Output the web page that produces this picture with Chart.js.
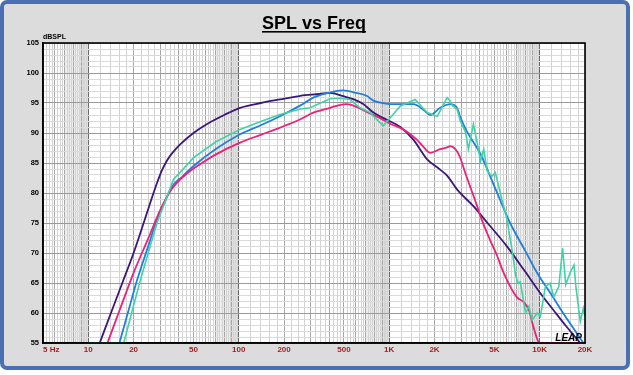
<!DOCTYPE html>
<html><head><meta charset="utf-8">
<script src="https://cdn.jsdelivr.net/npm/chart.js@4/dist/chart.umd.min.js"></script>
<style>html,body{margin:0;padding:0;background:#fff;overflow:hidden}canvas{display:block}</style>
</head><body>
<canvas id="c" width="633" height="375"></canvas>
<script>
// ---- data (Hz, dBSPL) ----
const purpleFreq = [11.9,14,17,20,25,28,30.9,33.5,36,40.8,50,61.6,80,102,140,188,257,346,404,500,582,675,785,964,1185,1446,1786,2180,2424,2820,3625,4500,6060,8000,10100,12500,15100,18600];
const purpleSPL  = [55,59.7,65.3,70,77.3,81.0,83.8,85.5,86.6,88.1,90,91.5,93,94.2,95,95.6,96.2,96.5,96.7,96.1,95.6,94.8,93.4,92.2,91.0,88.9,85.6,83.9,82.9,80.6,77.8,75.0,71.1,66.9,63.3,60.3,57.7,55];

const pinkFreq = [13.4,16,20,25,30.1,35,38.8,45,55.4,70,102,140,188,257,313,404,474,520,600,708,850,1020,1238,1525,1700,1875,2180,2424,2540,2750,2950,3215,3840,4040,4670,5220,5760,7060,7760,8470,9130,10000,20000];
const pinkSPL  = [55,60.2,66.7,72.4,77.2,80.3,81.7,83.2,84.8,86.4,88.4,89.7,90.9,92.3,93.4,94.2,94.7,94.8,94.4,93.5,92.6,91.5,90.6,88.9,87.6,86.7,87.3,87.6,87.8,87.3,86.0,83.2,77.8,76.1,72.2,69.5,66.7,62.6,61.9,60.5,57.5,55,55];

const blueFreq = [16.1,18.5,21.1,25,28.6,32,36,42,50.1,70,102,140,188,257,313,428,495,600,708,785,900,1020,1238,1446,1700,1875,2180,2540,2820,2970,3275,4040,5000,6358,8000,9600,12000,14300,17000,19500];
const blueSPL  = [55,60.4,65.5,71.1,75.6,78.3,81.1,82.7,84.5,87.3,89.8,91.3,92.8,94.6,95.9,96.9,97.1,96.7,96.2,95.4,95.0,94.8,94.8,94.8,93.8,93.0,94.2,94.8,94.2,92.6,90.3,86.5,81.1,75.0,70.4,66.7,63.0,60.0,57.2,55];

const tealFreq = [10,17.2,19.5,22.2,25,28.6,32,36.9,42,50.1,70,102,140,188,257,298,404,474,547,640,745,913,1020,1185,1486,1786,2085,2180,2424,2540,2620,2820,2970,3215,3360,3625,3840,4040,4245,4470,4820,5070,5610,6060,6540,6880,7130,7430,8050,8470,8910,9620,10100,10900,11700,12400,13400,14200,14900,15900,16900,17400,18600,19500,20000];
const tealSPL  = [55,55,60.2,65.5,70.0,75.0,78.2,82.3,83.8,85.9,88.5,90.6,91.9,93.1,94.0,94.2,95.7,95.8,95.6,94.2,93.4,91.2,92.6,94.5,95.6,93.4,92.8,93.7,95.9,95.3,94.6,94.0,92.0,90.1,87.3,91.5,88.4,85.3,87.3,83.7,82.8,83.4,78.9,75.6,70.6,66.7,65.0,65.2,60.0,61.1,58.8,60.0,59.4,64.4,65.0,62.7,64.4,70.8,64.7,66.7,68.0,64.4,58.6,60.8,59.4];

const xTickValues = [5,10,20,50,100,200,500,1000,2000,5000,10000,20000];
const xTickLabels = ['5 Hz','10','20','50','100','200','500','1K','2K','5K','10K','20K'];
const yTickValues = [55,60,65,70,75,80,85,90,95,100,105];
const yTickLabels = ['55','60','65','70','75','80','85','90','95','100','105'];
const titleText = 'SPL vs Freq';
const yUnitText = 'dBSPL';
const logoText = 'LEAP';

// ---- grid helpers ----
const X_MIN = 5, X_MAX = 20000, Y_MIN = 55, Y_MAX = 105;
function logGridValues() {
  const out = [];
  for (let e = 0; e <= 4; e++) {
    const base = Math.pow(10, e);
    const mults = [1, 1.2, 1.4, 1.6, 1.8];
    for (let m = 2; m < 10; m += 0.25) mults.push(m);
    for (const m of mults) {
      const v = Math.round(m * base * 1000) / 1000;
      if (v >= X_MIN && v <= X_MAX) out.push(v);
    }
  }
  out.sort((a, b) => a - b);
  const i = out.indexOf(X_MAX);
  if (i >= 0) { out.splice(i, 1); out.splice(1, 0, X_MAX); }
  return out;
}
const xGrid = logGridValues();
const yGrid = [];
for (let v = Y_MIN; v <= Y_MAX; v++) yGrid.push(v);

function pts(f, s) { return f.map((x, i) => ({ x: x, y: s[i] })); }

const framePlugin = {
  id: 'frame',
  beforeDraw(chart) {
    const c = chart.ctx, a = chart.chartArea, xs = chart.scales.x;
    c.save();
    c.fillStyle = '#ffffff';
    c.fillRect(0, 0, chart.width, chart.height);
    c.beginPath();
    c.roundRect(2, 2, 626, 366, 5);
    c.fillStyle = '#dcdcdc';
    c.fill();
    c.lineWidth = 4;
    c.strokeStyle = '#4a6fb2';
    c.stroke();
    c.fillStyle = '#ffffff';
    c.fillRect(a.left, a.top, a.right - a.left, a.bottom - a.top);
    // shaded bands near the end of each decade
    for (let e = 0; e <= 3; e++) {
      const b = Math.pow(10, e);
      const bands = [[7 * b, 8.8 * b, '#eeeeee'], [8.8 * b, 10 * b, '#e0e0e0']];
      for (const [lo, hi, col] of bands) {
        const l = Math.max(lo, X_MIN), h = Math.min(hi, X_MAX);
        if (h <= l) continue;
        const x0 = xs.getPixelForValue(l), x1 = xs.getPixelForValue(h);
        c.fillStyle = col;
        c.fillRect(x0, a.top, x1 - x0, a.bottom - a.top);
      }
    }
    c.restore();
  },
  afterDraw(chart) {
    const c = chart.ctx, a = chart.chartArea;
    c.save();
    c.strokeStyle = '#000';
    c.lineWidth = 1.6;
    c.strokeRect(a.left, a.top, a.right - a.left, a.bottom - a.top);
    c.font = 'bold 18px "Liberation Sans", Arial, sans-serif';
    c.fillStyle = '#000';
    c.textAlign = 'center';
    c.textBaseline = 'alphabetic';
    const tx = 314, ty = 29;
    c.fillText(titleText, tx, ty);
    const w = c.measureText(titleText).width;
    c.fillRect(tx - w / 2, ty + 2, w, 1.6);
    c.font = 'bold 7px "Liberation Sans", Arial, sans-serif';
    c.textAlign = 'left';
    c.fillText(yUnitText, a.left, a.top - 4);
    c.font = 'bold italic 10px "Liberation Sans", Arial, sans-serif';
    c.textAlign = 'right';
    c.fillText(logoText, a.right - 3, a.bottom - 2);
    c.restore();
  }
};

function xGridColor(ctx) {
  const v = ctx.tick ? ctx.tick.value : null;
  if (v == null) return '#d4d4d4';
  const e = Math.floor(Math.log10(v) + 1e-9);
  const m = v / Math.pow(10, e);
  if (Math.abs(m - 1) < 1e-6) return '#6a6a6a';
  if (Math.abs(m - Math.round(m)) < 1e-6) return '#a6a6a6';
  return '#d2d2d2';
}

new Chart(document.getElementById('c'), {
  type: 'line',
  data: {
    datasets: [
      { label: 'teal', data: pts(tealFreq, tealSPL), borderColor: '#3fd3a6', borderWidth: 1.6, pointRadius: 0, tension: 0, fill: false },
      { label: 'pink', data: pts(pinkFreq, pinkSPL), borderColor: '#ea2279', borderWidth: 1.8, pointRadius: 0, cubicInterpolationMode: 'monotone', fill: false },
      { label: 'blue', data: pts(blueFreq, blueSPL), borderColor: '#1f7fe0', borderWidth: 1.8, pointRadius: 0, cubicInterpolationMode: 'monotone', fill: false },
      { label: 'purple', data: pts(purpleFreq, purpleSPL), borderColor: '#3b177a', borderWidth: 1.8, pointRadius: 0, cubicInterpolationMode: 'monotone', fill: false }
    ]
  },
  options: {
    responsive: false,
    devicePixelRatio: 1,
    animation: false,
    events: [],
    layout: { padding: { left: 0, top: 43, right: 48, bottom: 14 } },
    plugins: { legend: { display: false }, tooltip: { enabled: false }, title: { display: false } },
    scales: {
      x: {
        type: 'logarithmic', min: X_MIN, max: X_MAX,
        afterBuildTicks(s) { s.ticks = xGrid.map(v => ({ value: v })); },
        afterFit(s) { s.height = 18; },
        ticks: {
          autoSkip: false, maxRotation: 0, minRotation: 0, align: 'inner', padding: 2,
          color: '#9e1c1c',
          font: { family: '"Liberation Sans", Arial, sans-serif', size: 8, weight: 'bold' },
          callback(v) { const i = xTickValues.indexOf(v); return i >= 0 ? xTickLabels[i] : ''; }
        },
        grid: { color: xGridColor, lineWidth: 1, drawTicks: false, tickLength: 0 },
        border: { display: true, color: '#000', width: 1.5 }
      },
      y: {
        type: 'linear', min: Y_MIN, max: Y_MAX,
        afterBuildTicks(s) { s.ticks = yGrid.map(v => ({ value: v })); },
        afterFit(s) { s.width = 43; },
        ticks: {
          autoSkip: false, padding: 4, color: '#000',
          font: { family: '"Liberation Sans", Arial, sans-serif', size: 7.5, weight: 'bold' },
          callback(v) { const i = yTickValues.indexOf(v); return i >= 0 ? yTickLabels[i] : ''; }
        },
        grid: { color: ctx => (ctx.tick && ctx.tick.value % 5 === 0) ? '#9a9a9a' : '#dadada', lineWidth: 1, drawTicks: false, tickLength: 0 },
        border: { display: true, color: '#000', width: 1.5 }
      }
    }
  },
  plugins: [framePlugin]
});
</script>
</body></html>
